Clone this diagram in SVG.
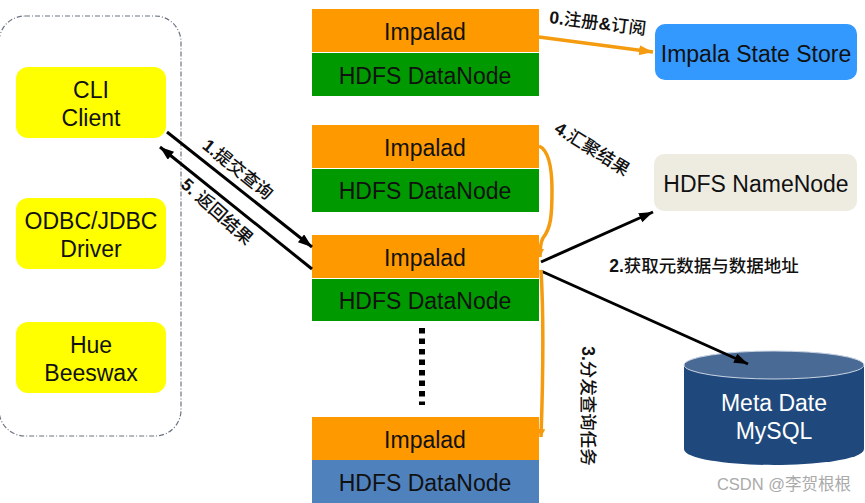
<svg xmlns="http://www.w3.org/2000/svg" width="865" height="503" viewBox="0 0 865 503">
<style>
text{font-family:"Liberation Sans","Noto Sans CJK SC",sans-serif;text-anchor:middle;fill:#111}
.n{font-size:23px}
.c{font-family:"Liberation Sans","Noto Sans CJK SC",sans-serif;font-size:17.5px;font-weight:500}
.b{font-weight:700}
.y{fill:#ffff00}
.o{fill:#ff9900}
.g{fill:#009900}
.k{fill:none;stroke:#000;stroke-width:3}
.a{fill:none;stroke:#f59b0f;stroke-width:3.5}
</style>
<defs>
<marker id="ab" markerUnits="userSpaceOnUse" markerWidth="16" markerHeight="12" refX="14" refY="5" orient="auto"><path d="M0 0L14 5L0 10z" fill="#000"/></marker>
<marker id="ao" markerUnits="userSpaceOnUse" markerWidth="16" markerHeight="12" refX="14" refY="5" orient="auto"><path d="M0 0L14 5L0 10z" fill="#f59b0f"/></marker>
<marker id="as" markerUnits="userSpaceOnUse" markerWidth="10" markerHeight="10" refX="8" refY="4" orient="auto"><path d="M0 0L8 4L0 8z" fill="#f59b0f"/></marker>
</defs>
<rect width="865" height="503" fill="#fff"/>
<g id="client-group">
<rect x="-1" y="16" width="182" height="420" rx="26" fill="none" stroke="#6b7280" stroke-width="1.2" stroke-dasharray="5 2 1 2"/>
</g>
<g id="cli"><rect class="y" x="16" y="67" width="150" height="71" rx="12"/><text class="n" x="91" y="98">CLI</text><text class="n" x="91" y="126">Client</text></g>
<g id="odbc"><rect class="y" x="16" y="198" width="150" height="71" rx="12"/><text class="n" x="91" y="229">ODBC/JDBC</text><text class="n" x="91" y="257">Driver</text></g>
<g id="hue"><rect class="y" x="16" y="322" width="150" height="71" rx="12"/><text class="n" x="91" y="353">Hue</text><text class="n" x="91" y="381">Beeswax</text></g>
<g id="impala-1"><rect class="o" x="312" y="9" width="227" height="43"/><rect class="g" x="312" y="53" width="227" height="43"/><text class="n" x="425" y="40">Impalad</text><text class="n" x="425" y="84">HDFS DataNode</text></g>
<g id="impala-2"><rect class="o" x="312" y="125" width="227" height="43"/><rect class="g" x="312" y="169" width="227" height="43"/><text class="n" x="425" y="156">Impalad</text><text class="n" x="425" y="199">HDFS DataNode</text></g>
<g id="impala-3"><rect class="o" x="312" y="235" width="227" height="43"/><rect class="g" x="312" y="279" width="227" height="42"/><text class="n" x="425" y="266">Impalad</text><text class="n" x="425" y="309">HDFS DataNode</text></g>
<g id="impala-4"><rect class="o" x="312" y="417" width="227" height="43"/><rect x="312" y="460" width="227" height="43" fill="#4f81bd"/><text class="n" x="425" y="448">Impalad</text><text class="n" x="425" y="491">HDFS DataNode</text></g>
<g id="state-store"><rect x="655" y="24" width="202" height="56" rx="10" fill="#3399ff"/><text class="n" x="756" y="62">Impala State Store</text></g>
<g id="namenode"><rect x="654" y="154" width="203" height="57" rx="10" fill="#eeece1"/><text class="n" x="756" y="192">HDFS NameNode</text></g>
<g id="metastore">
<path d="M684 365V449C684 460 736 465 774 465S864 460 864 449V365z" fill="#1f497d"/>
<ellipse cx="774" cy="365" rx="90" ry="14" fill="#4a6a96" stroke="#c9d4e3" stroke-width="1"/>
<text class="n" x="774" y="411" style="fill:#fff">Meta Date</text><text class="n" x="774" y="439" style="fill:#fff">MySQL</text>
</g>
<path d="M422 328V405" fill="none" stroke="#000" stroke-width="6" stroke-dasharray="5.5 5"/>
<g id="connectors">
<line class="a" x1="539" y1="37" x2="653" y2="52" marker-end="url(#ao)"/>
<line class="k" x1="167" y1="132" x2="312" y2="247" marker-end="url(#ab)"/>
<line class="k" x1="312" y1="269" x2="160" y2="147" marker-end="url(#ab)"/>
<line class="k" x1="541" y1="262" x2="653" y2="212" marker-end="url(#ab)"/>
<line class="k" x1="541" y1="271" x2="748" y2="364" marker-end="url(#ab)"/>
<path class="a" d="M539 146C548 150 552 165 552 190C552 215 551 228 543 238C540 243 540 250 540 257" marker-end="url(#as)"/>
<path class="a" d="M541 270C544 320 543 380 541 437" marker-end="url(#as)"/>
</g>
<text class="c" transform="translate(597 29) rotate(7)"><tspan class="b">0.</tspan>注册<tspan class="b">&amp;</tspan>订阅</text>
<text class="c" transform="translate(234 174) rotate(39)"><tspan class="b">1.</tspan>提交查询</text>
<text class="c" transform="translate(213 216) rotate(42)"><tspan class="b">5.</tspan> 返回结果</text>
<text class="c" transform="translate(589 154) rotate(32)"><tspan class="b">4.</tspan>汇聚结果</text>
<text class="c" x="704" y="272"><tspan class="b">2.</tspan>获取元数据与数据地址</text>
<text class="c" transform="translate(582 406) rotate(90)"><tspan class="b">3.</tspan>分发查询任务</text>
<text x="784" y="490" style="font-size:16.5px;fill:#aaa">CSDN @李贺根根</text>
</svg>
